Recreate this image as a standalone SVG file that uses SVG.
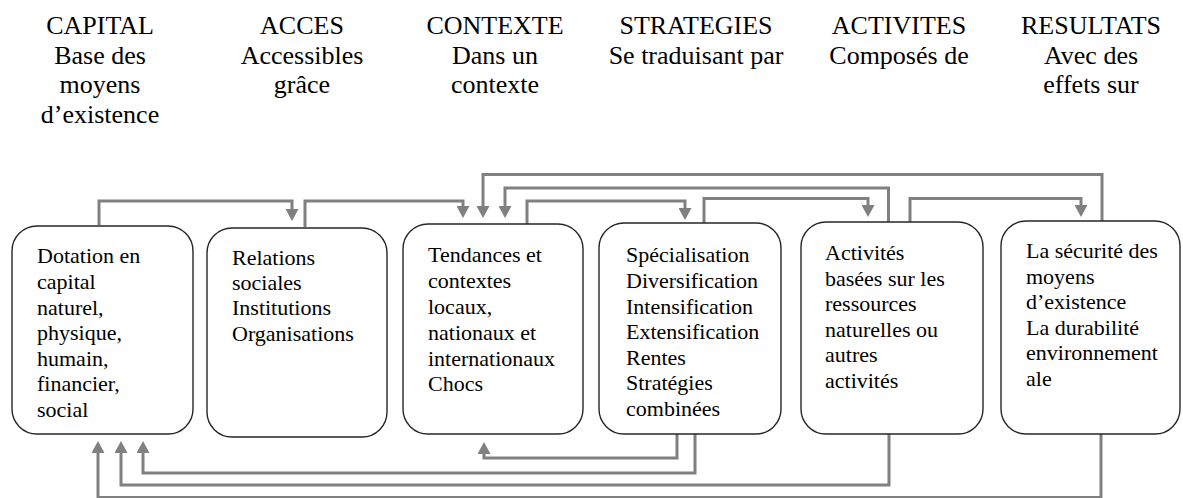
<svg xmlns="http://www.w3.org/2000/svg" width="1183" height="498" viewBox="0 0 1183 498">
<style>
.hd{font-family:"Liberation Serif","Times New Roman",serif;font-size:26px;fill:#000;text-anchor:middle}
.bt{font-family:"Liberation Serif","Times New Roman",serif;font-size:22px;fill:#000}
.box{fill:#fff;stroke:#262626;stroke-width:1.4}
.cn{fill:none;stroke:#808080;stroke-width:3;stroke-linejoin:miter}
</style>
<defs>
<marker id="ah" markerUnits="userSpaceOnUse" markerWidth="13" markerHeight="13" refX="6" refY="6.5" orient="auto">
<path d="M0,0 L12,6.5 L0,13 z" fill="#808080"/>
</marker>
</defs>
<g id="headers">
<text class="hd" x="100" y="34">CAPITAL<tspan x="100" dy="29.7">Base des</tspan><tspan x="100" dy="29.7">moyens</tspan><tspan x="100" dy="29.7">d’existence</tspan></text>
<text class="hd" x="302" y="34">ACCES<tspan x="302" dy="29.7">Accessibles</tspan><tspan x="302" dy="29.7">grâce</tspan></text>
<text class="hd" x="495" y="34">CONTEXTE<tspan x="495" dy="29.7">Dans un</tspan><tspan x="495" dy="29.7">contexte</tspan></text>
<text class="hd" x="696" y="34">STRATEGIES<tspan x="696" dy="29.7">Se traduisant par</tspan></text>
<text class="hd" x="899" y="34">ACTIVITES<tspan x="899" dy="29.7">Composés de</tspan></text>
<text class="hd" x="1091" y="34">RESULTATS<tspan x="1091" dy="29.7">Avec des</tspan><tspan x="1091" dy="29.7">effets sur</tspan></text>
</g>
<g id="connectors">
<path class="cn" d="M99,225 V201 H292 V215" marker-end="url(#ah)"/>
<path class="cn" d="M305,227 V201 H463 V212" marker-end="url(#ah)"/>
<path class="cn" d="M1102,221 V174.5 H483 V212" marker-end="url(#ah)"/>
<path class="cn" d="M888.5,222 V188 H505 V212" marker-end="url(#ah)"/>
<path class="cn" d="M527,224 V201 H685 V214" marker-end="url(#ah)"/>
<path class="cn" d="M704,223 V198.5 H868 V211" marker-end="url(#ah)"/>
<path class="cn" d="M910,222 V198.5 H1081 V211" marker-end="url(#ah)"/>
<path class="cn" d="M677,434 V458 H484 V448" marker-end="url(#ah)"/>
<path class="cn" d="M695,434 V473 H143 V447" marker-end="url(#ah)"/>
<path class="cn" d="M889,434 V485 H121 V447" marker-end="url(#ah)"/>
<path class="cn" d="M1101,434 V497.5 H98 V447" marker-end="url(#ah)"/>
</g>
<g id="capital">
<rect class="box" x="12" y="226" width="181" height="208" rx="25"/>
<text class="bt" x="37" y="263.3">Dotation en<tspan x="37" dy="25.6">capital</tspan><tspan x="37" dy="25.6">naturel,</tspan><tspan x="37" dy="25.6">physique,</tspan><tspan x="37" dy="25.6">humain,</tspan><tspan x="37" dy="25.6">financier,</tspan><tspan x="37" dy="25.6">social</tspan></text>
</g>
<g id="acces">
<rect class="box" x="207" y="228" width="180" height="209" rx="25"/>
<text class="bt" x="232" y="265">Relations<tspan x="232" dy="25.2">sociales</tspan><tspan x="232" dy="25.2">Institutions</tspan><tspan x="232" dy="25.2">Organisations</tspan></text>
</g>
<g id="contexte">
<rect class="box" x="403" y="224" width="180" height="210" rx="25"/>
<text class="bt" x="428" y="262.3">Tendances et<tspan x="428" dy="25.8">contextes</tspan><tspan x="428" dy="25.8">locaux,</tspan><tspan x="428" dy="25.8">nationaux et</tspan><tspan x="428" dy="25.8">internationaux</tspan><tspan x="428" dy="25.8">Chocs</tspan></text>
</g>
<g id="strategies">
<rect class="box" x="599" y="223" width="182" height="211" rx="25"/>
<text class="bt" x="626" y="262.3">Spécialisation<tspan x="626" dy="25.6">Diversification</tspan><tspan x="626" dy="25.6">Intensification</tspan><tspan x="626" dy="25.6">Extensification</tspan><tspan x="626" dy="25.6">Rentes</tspan><tspan x="626" dy="25.6">Stratégies</tspan><tspan x="626" dy="25.6">combinées</tspan></text>
</g>
<g id="activites">
<rect class="box" x="801" y="222" width="182" height="212" rx="25"/>
<text class="bt" x="825" y="260">Activités<tspan x="825" dy="25.5">basées sur les</tspan><tspan x="825" dy="25.5">ressources</tspan><tspan x="825" dy="25.5">naturelles ou</tspan><tspan x="825" dy="25.5">autres</tspan><tspan x="825" dy="25.5">activités</tspan></text>
</g>
<g id="resultats">
<rect class="box" x="1001" y="221" width="179" height="213" rx="25"/>
<text class="bt" x="1026" y="258.3">La sécurité des<tspan x="1026" dy="25.5">moyens</tspan><tspan x="1026" dy="25.5">d’existence</tspan><tspan x="1026" dy="25.5">La durabilité</tspan><tspan x="1026" dy="25.5">environnement</tspan><tspan x="1026" dy="25.5">ale</tspan></text>
</g>
</svg>
